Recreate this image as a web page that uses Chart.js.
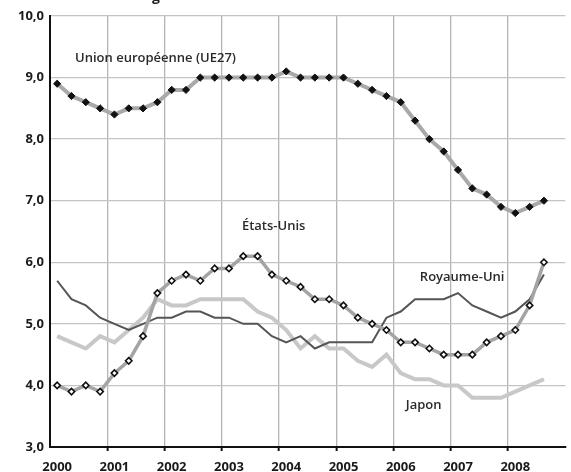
<!DOCTYPE html>
<html>
<head>
<meta charset="utf-8">
<script src="https://cdn.jsdelivr.net/npm/chart.js@4"></script>
<style>
  html, body { margin: 0; padding: 0; background: #fff; }
  #wrap { position: relative; width: 571px; height: 472px; overflow: hidden; }
  #frag { position: absolute; left: 152px; top: -14px; font: bold 14px "Open Sans"; color: #222; }
</style>
</head>
<body>
<div id="wrap">
  <div id="frag">g</div>
  <canvas id="c" width="571" height="472"></canvas>
</div>
<script>
// Quarterly categories 2000 Q1 .. 2008 Q4 (last quarter empty)
const years = ['2000','2001','2002','2003','2004','2005','2006','2007','2008'];
const quarters = ['T1','T2','T3','T4'];
const categories = [];
years.forEach(y => quarters.forEach(q => categories.push(y + ' ' + q)));

const ue27 = [8.9,8.7,8.6,8.5, 8.4,8.5,8.5,8.6, 8.8,8.8,9.0,9.0, 9.0,9.0,9.0,9.0,
              9.1,9.0,9.0,9.0, 9.0,8.9,8.8,8.7, 8.6,8.3,8.0,7.8, 7.5,7.2,7.1,6.9,
              6.8,6.9,7.0];
const etatsUnis = [4.0,3.9,4.0,3.9, 4.2,4.4,4.8,5.5, 5.7,5.8,5.7,5.9, 5.9,6.1,6.1,5.8,
                   5.7,5.6,5.4,5.4, 5.3,5.1,5.0,4.9, 4.7,4.7,4.6,4.5, 4.5,4.5,4.7,4.8,
                   4.9,5.3,6.0];
const royaumeUni = [5.7,5.4,5.3,5.1, 5.0,4.9,5.0,5.1, 5.1,5.2,5.2,5.1, 5.1,5.0,5.0,4.8,
                    4.7,4.8,4.6,4.7, 4.7,4.7,4.7,5.1, 5.2,5.4,5.4,5.4, 5.5,5.3,5.2,5.1,
                    5.2,5.4,5.8];
const japon = [4.8,4.7,4.6,4.8, 4.7,4.9,5.1,5.4, 5.3,5.3,5.4,5.4, 5.4,5.4,5.2,5.1,
               4.9,4.6,4.8,4.6, 4.6,4.4,4.3,4.5, 4.2,4.1,4.1,4.0, 4.0,3.8,3.8,3.8,
               3.9,4.0,4.1];
const yTicks = [3,4,5,6,7,8,9,10];

// series labels placed in data space (category index, value)
const seriesLabels = [
  { text: 'Union européenne (UE27)', i: 6.87, v: 9.31 },
  { text: 'États-Unis', i: 15.12, v: 6.58 },
  { text: 'Royaume-Uni', i: 28.29, v: 5.76 },
  { text: 'Japon', i: 25.6, v: 3.68 }
];

const labelPlugin = {
  id: 'seriesLabels',
  afterDatasetsDraw(chart) {
    const ctx = chart.ctx, xs = chart.scales.x, ys = chart.scales.y;
    ctx.save();
    ctx.font = '600 13px "Open Sans"';
    ctx.fillStyle = '#2a2a2a';
    ctx.textAlign = 'center';
    ctx.textBaseline = 'middle';
    seriesLabels.forEach(l => {
      const x = xs.left + (l.i + 0.5) * (xs.width / categories.length);
      ctx.fillText(l.text, x, ys.getPixelForValue(l.v));
    });
    ctx.restore();
  }
};

new Chart(document.getElementById('c'), {
  type: 'line',
  data: {
    labels: categories,
    datasets: [
      { label: 'UE27', data: ue27, borderColor: '#a9a9a9', borderWidth: 4,
        pointStyle: 'rectRot', pointRadius: 3.6, pointBackgroundColor: '#111',
        pointBorderColor: '#111', pointBorderWidth: 1, order: 1 },
      { label: 'États-Unis', data: etatsUnis, borderColor: '#a4a4a4', borderWidth: 3.5,
        pointStyle: 'rectRot', pointRadius: 3.2, pointBackgroundColor: '#fff',
        pointBorderColor: '#111', pointBorderWidth: 1.6, order: 2 },
      { label: 'Royaume-Uni', data: royaumeUni, borderColor: '#555', borderWidth: 2,
        pointRadius: 0, order: 3 },
      { label: 'Japon', data: japon, borderColor: '#c8c8c8', borderWidth: 4,
        pointRadius: 0, order: 4 }
    ]
  },
  options: {
    responsive: false,
    animation: false,
    devicePixelRatio: 1,
    layout: { padding: { top: 16, right: 0, left: 0, bottom: 0 } },
    plugins: { legend: { display: false }, tooltip: { enabled: false } },
    elements: { line: { tension: 0 } },
    scales: {
      x: {
        type: 'category',
        offset: true,
        border: { color: '#111', width: 2 },
        grid: {
          offset: true,
          color: c => (c.index % 4 === 0 && c.index > 0) ? '#b4b4b4' : 'rgba(0,0,0,0)',
          tickColor: c => (c.index % 4 === 0 && c.index > 0) ? '#111' : 'rgba(0,0,0,0)',
          tickLength: 4,
          lineWidth: 1.3,
          tickWidth: 2
        },
        ticks: {
          autoSkip: false,
          maxRotation: 0,
          padding: 8,
          color: '#1a1a1a',
          font: { family: 'Open Sans', size: 13, weight: 'bold' },
          callback: (v, i) => (i % 4 === 0) ? years[i / 4] : ''
        },
        afterFit: s => { s.height = 25; }
      },
      y: {
        min: 3, max: 10,
        border: { color: '#111', width: 2 },
        grid: { color: '#c4c4c4', lineWidth: 1.3, drawTicks: false },
        afterBuildTicks: s => { s.ticks = yTicks.map(v => ({ value: v })); },
        ticks: {
          padding: 6,
          color: '#1a1a1a',
          font: { family: 'Open Sans', size: 13, weight: 'bold' },
          callback: v => v.toFixed(1).replace('.', ',')
        },
        afterFit: s => { s.width = 50; }
      }
    }
  },
  plugins: [labelPlugin]
});
</script>
</body>
</html>
